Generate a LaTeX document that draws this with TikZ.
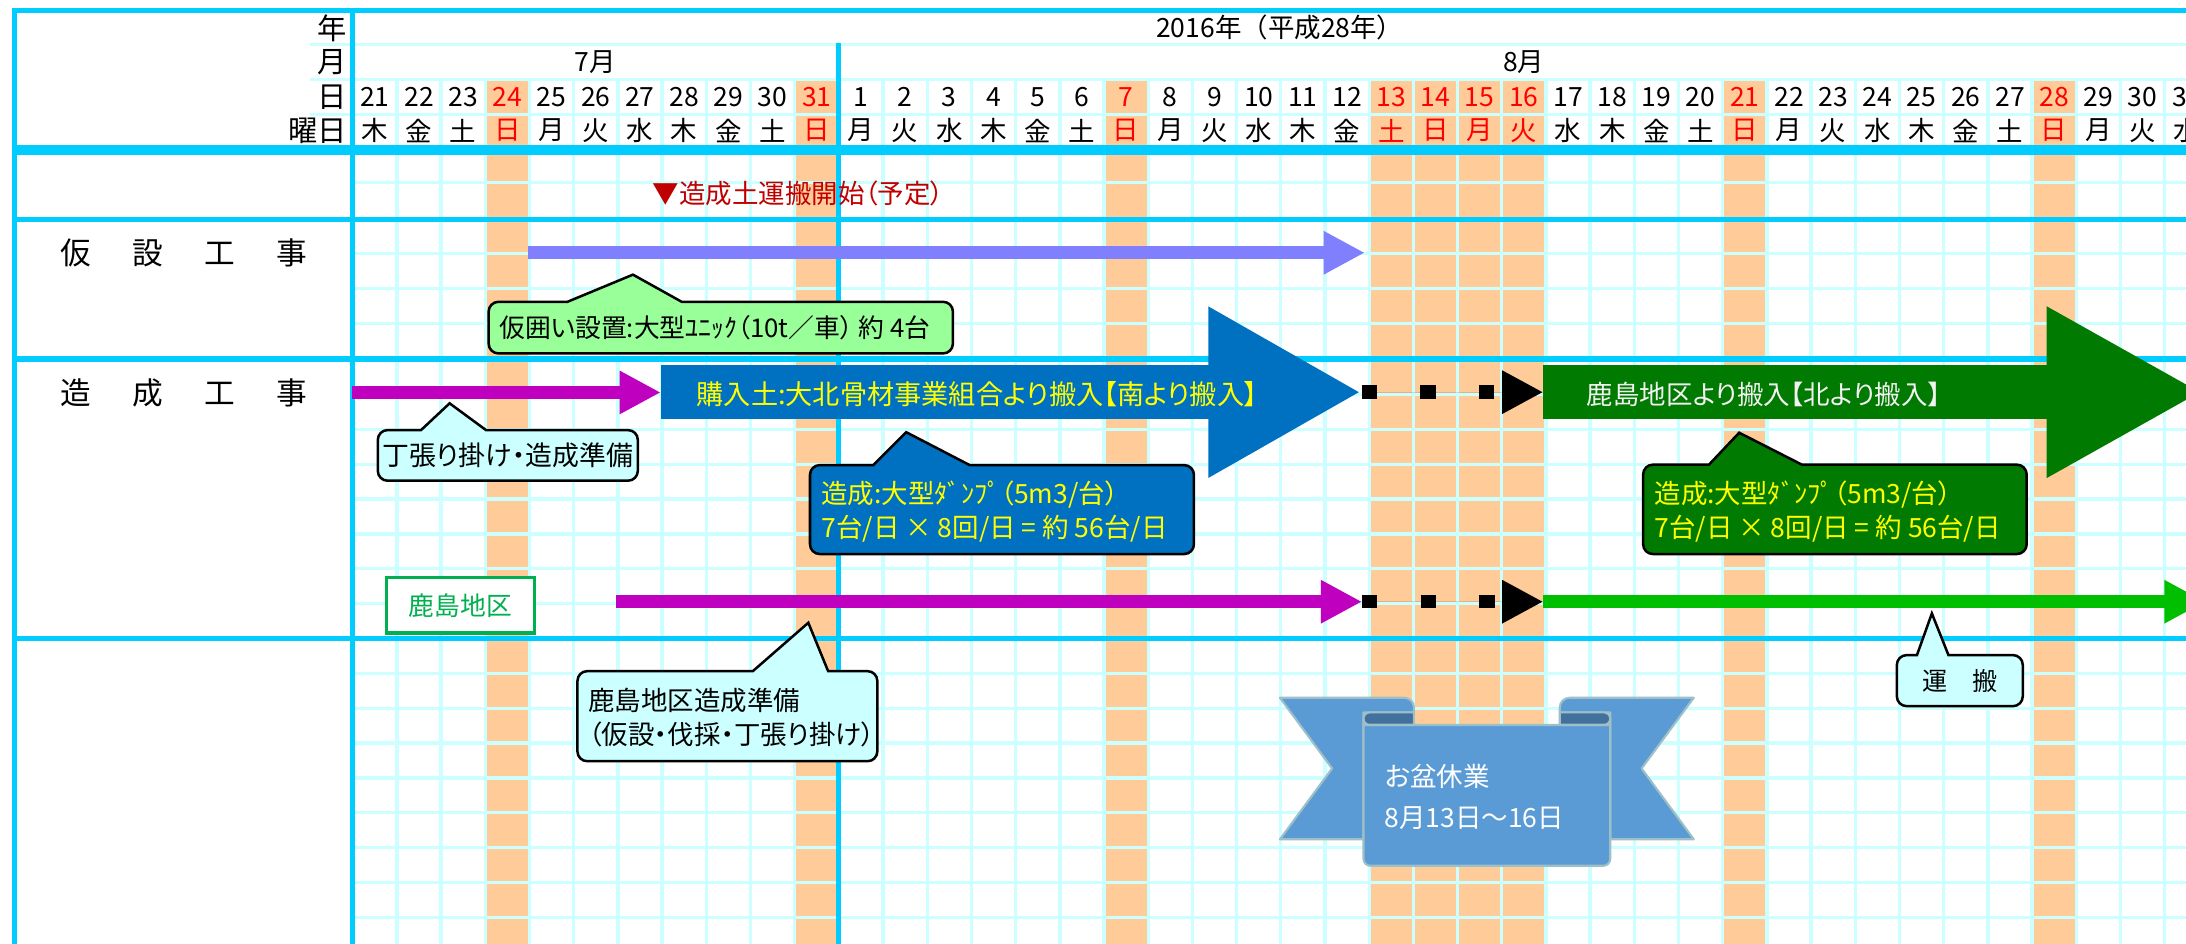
\documentclass[tikz,border=0pt]{standalone}
\usepackage{fontspec}
\setmainfont{Noto Sans CJK JP}
\newfontfamily\pj{Noto Sans CJK JP}[RawFeature={+palt}]
\usetikzlibrary{arrows.meta}
\definecolor{thickc}{HTML}{00CCFF}
\definecolor{gridc}{HTML}{CCFFFF}
\definecolor{hol}{HTML}{FFCC99}
\definecolor{pa}{HTML}{8080FF}
\definecolor{mg}{HTML}{BF00BF}
\definecolor{bl}{HTML}{0070C0}
\definecolor{gr}{HTML}{007A00}
\definecolor{bg}{HTML}{00BF00}
\definecolor{lg}{HTML}{99FF99}
\definecolor{lc}{HTML}{CCFFFF}
\definecolor{kg}{HTML}{00B050}
\definecolor{dr}{HTML}{C00000}
\definecolor{ywt}{HTML}{FFFF00}
\definecolor{wt}{HTML}{F2F2F2}
\definecolor{rib}{HTML}{5B9BD5}
\definecolor{ribdark}{HTML}{41719C}
\definecolor{ribline}{HTML}{9CBFC8}
% #1 style, #2 x1, #3 y1, #4 x2, #5 y2, #6 base left, #7 base right, #8 tip x, #9 tip y
\newcommand{\mycallout}[9]{%
 \filldraw[#1] (#2,#3+7) arc[start angle=180,end angle=90,radius=7pt] -- (#6,#3) -- (#8,#9) -- (#7,#3) -- (#4-7,#3) arc[start angle=90,end angle=0,radius=7pt] -- (#4,#5-7) arc[start angle=0,end angle=-90,radius=7pt] -- (#2+7,#5) arc[start angle=270,end angle=180,radius=7pt] -- cycle;}
\begin{document}
\begin{tikzpicture}[x=1pt,y=-1pt,
  gridl/.style={draw=gridc,line width=2.4pt},
  thickl/.style={draw=thickc,line width=3.6pt},
  hfont/.style={font=\fontsize{19}{20}\selectfont,inner sep=0pt},
  lfont/.style={font=\fontsize{21}{22}\selectfont,inner sep=0pt},
  dfont/.style={font=\fontsize{19}{20}\selectfont,inner sep=0pt},
  wfont/.style={font=\fontsize{19}{20}\selectfont,inner sep=0pt},
  btext/.style={font=\pj\fontsize{19}{24}\selectfont,inner sep=0pt,align=left},
  rowlab/.style={font=\fontsize{22}{24}\selectfont,inner sep=0pt},
  cbox/.style={draw=black,line width=1.8pt,line join=miter},
  thinarrow/.style={line width=9.6pt,-{Triangle[length=29.5pt,width=29pt]}},
  dotconn/.style={line width=9.6pt,draw=black,dash pattern=on 11pt off 31pt,-{Triangle[length=29.5pt,width=29pt]}},
  ribshape/.style={fill=rib,draw=ribline,line width=1.5pt,line join=round}
]
\useasboundingbox (0,0) rectangle (1568,677);
\clip (0,0) rectangle (1568,677);
\fill[white] (0,0) rectangle (1568,677);

% holiday columns
\foreach \i in {3,10,17,23,24,25,26,31,38}{
  \fill[hol] ({253+31.7*\i},57) rectangle ({253+31.7*(\i+1)},105.5);
  \fill[hol] ({253+31.7*\i},109) rectangle ({253+31.7*(\i+1)},680);
}
% light grid
\foreach \i in {1,...,42}{
  \draw[gridl] ({253+31.7*\i},57) -- ({253+31.7*\i},105.5);
  \draw[gridl] ({253+31.7*\i},109) -- ({253+31.7*\i},680);
}
\foreach \y in {32,57,82} \draw[gridl] (222,\y) -- (1570,\y);
\foreach \y in {131,182,207,232,283,308,333,358,383,408,433,483,508,533,558,583,608,633,658}
  \draw[gridl] (253,\y) -- (1570,\y);
% thick lines
\draw[thickl] (9,7.5) -- (1570,7.5);
\draw[thickl] (10.7,6) -- (10.7,680);
\draw[thickl] (252.7,6) -- (252.7,680);
\draw[thickl] (601.7,31) -- (601.7,680);
\foreach \y in {105.5,109.3,157.5,257.5,458}
  \draw[thickl] (9,\y) -- (1570,\y);

% header labels
\node[lfont,anchor=east] (lyear) at (249,20) {年};
\node[lfont,anchor=east] (lmonth) at (249,44.5) {月};
\node[lfont,anchor=east] (lday) at (249,69.5) {日};
\node[lfont,anchor=east] (lwday) at (249,93.7) {曜日};
\node[hfont] (year) at (918,20) {2016年（平成28年）};
\node[hfont] (m7) at (427,44.5) {7月};
\node[hfont] (m8) at (1093,44.5) {8月};
\foreach \i in {0,...,41}{
  \pgfmathtruncatemacro\d{\i<11 ? 21+\i : \i-10}
  \pgfmathtruncatemacro\w{mod(\i,7)}
  \pgfmathtruncatemacro\h{((\w==3) || ((\i>22) && (\i<27))) ? 1 : 0}
  \ifnum\h=1 \colorlet{tc}{red}\else\colorlet{tc}{black}\fi
  \node[dfont,text=tc] (d\i) at ({253+31.7*(\i+0.5)},69.5) {\d};
  \node[wfont,text=tc] (w\i) at ({253+31.7*(\i+0.5)},93.7) {\ifcase\w 木\or 金\or 土\or 日\or 月\or 火\or 水\fi};
}

% row labels
\node[rowlab] (kasetsu) at (131.8,181.7) {仮\hspace{29.6pt}設\hspace{29.6pt}工\hspace{29.6pt}事};
\node[rowlab] (zousei) at (131.8,281.7) {造\hspace{29.6pt}成\hspace{29.6pt}工\hspace{29.6pt}事};

% start marker
\node[btext,text=dr,anchor=west] (start) at (468,138.7) {▼造成土運搬開始（予定）};

% coordinates
\coordinate (pas) at (379,181.3);  \coordinate (pae) at (979,181.3);
\coordinate (mgs) at (252.7,281.5); \coordinate (mge) at (474,281.5);
\coordinate (bls) at (474,281.3);  \coordinate (ble) at (976.7,281.3);
\coordinate (grs) at (1107,281.3); \coordinate (gre) at (1580,281.3);
\coordinate (k1s) at (442.2,431.6); \coordinate (k1e) at (977,431.6);
\coordinate (k2s) at (1107,431.6); \coordinate (k2e) at (1582,431.6);

% arrows
\draw[thinarrow,draw=pa,fill=pa] (pas) -- (pae);
\draw[thinarrow,draw=mg,fill=mg] (mgs) -- (mge);
\draw[line width=38.6pt,draw=bl,-{Triangle[length=110pt,width=114.5pt]},fill=bl] (bls) -- (ble);
\draw[line width=38.6pt,draw=gr,-{Triangle[length=112pt,width=114.5pt]},fill=gr] (grs) -- (gre);
\draw[dotconn,fill=black] (ble) -- (grs);
\draw[thinarrow,draw=mg,fill=mg] (k1s) -- (k1e);
\draw[dotconn,fill=black] (k1e) -- (k2s);
\draw[thinarrow,draw=bg,fill=bg] (k2s) -- (k2e);

\node[btext,text=ywt,font=\pj\fontsize{19.5}{24}\selectfont] (bltxt) at (701,283) {購入土:大北骨材事業組合より搬入【南より搬入】};
\node[btext,text=wt,anchor=west,font=\pj\fontsize{19}{24}\selectfont] (grtxt) at (1138,283) {鹿島地区より搬入【北より搬入】};

% callouts
\mycallout{cbox,fill=lg}{350.5}{216.5}{683.5}{253.5}{407}{489}{454}{197}
\node[btext,anchor=west,font=\pj\fontsize{18.5}{24}\selectfont] (c1) at (358,235) {仮囲い設置:大型ﾕﾆｯｸ（10t／車） 約 4台};

\mycallout{cbox,fill=lc}{271}{308.5}{457.5}{344.8}{302}{348.6}{322.5}{289.3}
\node[btext,font=\pj\fontsize{19.3}{24}\selectfont] (c2) at (364.2,326.7) {丁張り掛け・造成準備};

\mycallout{cbox,fill=bl}{581}{333.6}{856.4}{397.4}{626.4}{695.5}{650}{310}
\node[btext,text=ywt,anchor=west] (c3) at (589,367) {造成:大型ﾀﾞﾝﾌﾟ（5m3/台）\\7台/日 × 8回/日 = 約 56台/日};

\mycallout{cbox,fill=gr}{1178.6}{333.3}{1453.7}{397.4}{1225.8}{1292.5}{1247.5}{310.4}
\node[btext,text=ywt,anchor=west] (c4) at (1186.6,367) {造成:大型ﾀﾞﾝﾌﾟ（5m3/台）\\7台/日 × 8回/日 = 約 56台/日};

\mycallout{cbox,fill=lc}{414.2}{481.4}{629.3}{546}{540}{594}{579.8}{446.7}
\node[btext,anchor=west] (c5) at (421.8,514.6) {鹿島地区造成準備\\（仮設・伐採・丁張り掛け）};

\mycallout{cbox,fill=lc}{1360.6}{469.9}{1450.9}{506.5}{1375}{1397.6}{1385.7}{440}
\node[btext,font=\pj\fontsize{18}{24}\selectfont] (c6) at (1405.7,488.5) {運\hspace{1em}搬};

% Kashima label
\node[draw=kg,line width=2.6pt,fill=white,minimum width=106pt,minimum height=40pt,inner sep=0pt,text=kg,font=\pj\fontsize{18.5}{20}\selectfont] (kashima) at (330.3,434.2) {鹿島地区};

% ribbon
\filldraw[ribshape] (918.1,500.5) -- (1007.2,500.5) arc[start angle=90,end angle=0,radius=7pt] -- (1014.2,511) -- (978,511) -- (978,602) -- (918.1,602) -- (955.5,551.2) -- cycle;
\filldraw[ribshape] (1214.9,500.5) -- (1125.8,500.5) arc[start angle=90,end angle=180,radius=7pt] -- (1118.8,511) -- (1155,511) -- (1155,602) -- (1214.9,602) -- (1177.5,551.2) -- cycle;
\filldraw[ribshape,fill=ribdark] (978,520) -- (978,515.5) arc[start angle=180,end angle=90,radius=4.5pt] -- (1014.2,511) -- (1014.2,520) -- cycle;
\filldraw[ribshape,fill=ribdark] (1155,520) -- (1155,515.5) arc[start angle=0,end angle=90,radius=4.5pt] -- (1118.8,511) -- (1118.8,520) -- cycle;
\filldraw[ribshape] (978,520) -- (1155,520) -- (1155,616) arc[start angle=0,end angle=-90,radius=5pt] -- (983,621) arc[start angle=270,end angle=180,radius=5pt] -- cycle;
\draw[draw=ribline,line width=1.5pt] (978,515.5) arc[start angle=180,end angle=270,radius=4.5pt] -- (1014.2,520);
\draw[draw=ribline,line width=1.5pt] (1155,515.5) arc[start angle=0,end angle=-90,radius=4.5pt] -- (1118.8,520);
\node[btext,text=white,anchor=west,font=\pj\fontsize{19}{29}\selectfont] (obon) at (993,571.5) {お盆休業\\8月13日～16日};
\end{tikzpicture}
\end{document}
